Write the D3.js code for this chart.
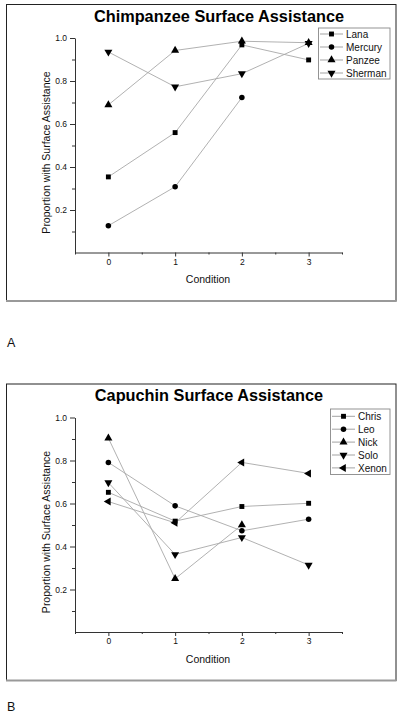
<!DOCTYPE html>
<html><head><meta charset="utf-8">
<script src="https://cdn.jsdelivr.net/npm/d3@7"></script>
<style>body{margin:0;background:#fff}svg{display:block;font-family:"Liberation Sans",Arial,sans-serif}</style>
</head><body>
<svg id="c" width="400" height="716"></svg>
<script>
// ---- data ----
const conditions = [0, 1, 2, 3];
const xTicks = [0, 1, 2, 3];
const yTicks = [0.2, 0.4, 0.6, 0.8, 1.0];
const yMinorTicks = [0.1, 0.3, 0.5, 0.7, 0.9];
const xMinorTicks = [-0.5, 0.5, 1.5, 2.5, 3.5];

const chimpTitle = "Chimpanzee Surface Assistance";
const chimpNames = ["Lana", "Mercury", "Panzee", "Sherman"];
const lana    = [0.354, 0.560, 0.968, 0.898];
const mercury = [0.127, 0.308, 0.723];
const panzee  = [0.689, 0.942, 0.985, 0.978];
const sherman = [0.935, 0.773, 0.834, 0.975];

const capTitle = "Capuchin Surface Assistance";
const capNames = ["Chris", "Leo", "Nick", "Solo", "Xenon"];
const chris = [0.652, 0.518, 0.586, 0.601];
const leo   = [0.791, 0.589, 0.473, 0.527];
const nick  = [0.904, 0.250, 0.500];
const solo  = [0.697, 0.363, 0.442, 0.314];
const xenon = [0.609, 0.510, 0.791, 0.740];

const markerTypes = ["square", "circle", "up", "down", "left"];

const svg = d3.select("#c");

function marker(g, type, x, y) {
  let sym, rot = 0, size = 24;
  if (type === "square") sym = d3.symbolSquare;
  else if (type === "circle") sym = d3.symbolCircle;
  else { sym = d3.symbolTriangle; size = 28; rot = type === "up" ? 0 : type === "down" ? 180 : -90; }
  g.append("path").attr("d", d3.symbol(sym, size)())
    .attr("transform", `translate(${x},${y}) rotate(${rot})`)
    .attr("fill", "#000");
}

function panel(oy, title, titleX, names, series, legend) {
  const g = svg.append("g").attr("transform", `translate(0,${oy})`);
  // frame
  g.append("rect").attr("x", 6.5).attr("y", 4.5).attr("width", 389.5).attr("height", 296.5)
    .attr("fill", "none").attr("stroke", "#222").attr("stroke-width", 1);
  g.append("line").attr("x1", 6).attr("x2", 396.5).attr("y1", 301).attr("y2", 301)
    .attr("stroke", "#999").attr("stroke-width", 2);

  const x = d3.scaleLinear().domain([-0.5, 3.5]).range([75, 342]);
  const y = d3.scaleLinear().domain([0, 1]).range([253, 38]);

  // axes
  g.append("g").attr("transform", "translate(0,252.5)")
    .call(d3.axisBottom(x).tickValues(xTicks).tickFormat(d3.format("d")).tickSize(4).tickSizeOuter(0).tickPadding(2));
  g.append("g").attr("transform", "translate(0,252.5)")
    .call(d3.axisBottom(x).tickValues(xMinorTicks).tickFormat("").tickSize(2).tickSizeOuter(0))
    .select(".domain").remove();
  g.append("g").attr("transform", "translate(75,0)")
    .call(d3.axisLeft(y).tickValues(yTicks).tickFormat(d3.format(".1f")).tickSize(5).tickSizeOuter(0).tickPadding(3));
  g.append("g").attr("transform", "translate(75,0)")
    .call(d3.axisLeft(y).tickValues(yMinorTicks).tickFormat("").tickSize(3).tickSizeOuter(0))
    .select(".domain").remove();
  g.selectAll(".domain, .tick line").attr("stroke", "#333");
  g.selectAll(".tick text").attr("font-size", "8.5px").attr("fill", "#111")
    .attr("font-family", '"Liberation Sans",Arial,sans-serif');

  // titles
  g.append("text").attr("x", titleX).attr("y", 21.5).attr("text-anchor", "middle")
    .attr("font-size", "16.3px").attr("font-weight", "bold").attr("fill", "#000").text(title);
  g.append("text").attr("x", 208).attr("y", 283).attr("text-anchor", "middle")
    .attr("font-size", "10.5px").attr("fill", "#111").text("Condition");
  g.append("text").attr("transform", "translate(50,152.5) rotate(-90)").attr("text-anchor", "middle")
    .attr("font-size", "10.5px").attr("fill", "#111").text("Proportion with Surface Assistance");

  // lines + markers
  const line = d3.line().x((d, i) => x(conditions[i])).y(d => y(d));
  series.forEach((s) => {
    g.append("path").attr("d", line(s)).attr("fill", "none")
      .attr("stroke", "#a8a8a8").attr("stroke-width", 0.9);
  });
  series.forEach((s, k) => {
    s.forEach((v, i) => marker(g, markerTypes[k], x(conditions[i]), y(v)));
  });

  // legend
  const L = legend;
  g.append("rect").attr("x", L.x0 + 0.5).attr("y", L.y0 + 0.5).attr("width", L.x1 - L.x0).attr("height", L.y1 - L.y0)
    .attr("fill", "#fff").attr("stroke", "#888").attr("stroke-width", 0.9);
  names.forEach((n, k) => {
    const yy = L.first + k * L.step;
    g.append("line").attr("x1", L.lx0).attr("x2", L.lx1).attr("y1", yy).attr("y2", yy)
      .attr("stroke", "#999").attr("stroke-width", 0.9);
    marker(g, markerTypes[k], (L.lx0 + L.lx1) / 2, yy);
    g.append("text").attr("x", L.tx).attr("y", yy + 3.6).attr("font-size", "10px")
      .attr("fill", "#111").text(n);
  });
}

panel(0, chimpTitle, 219, chimpNames, [lana, mercury, panzee, sherman],
  {x0: 318, x1: 389.5, y0: 27.5, y1: 78.5, first: 34, step: 13, lx0: 320, lx1: 343, tx: 346});
panel(379.5, capTitle, 209, capNames, [chris, leo, nick, solo, xenon],
  {x0: 330, x1: 389.5, y0: 29, y1: 94.5, first: 36.8, step: 12.9, lx0: 332, lx1: 355, tx: 358});

svg.append("text").attr("x", 7).attr("y", 347).attr("font-size", "12.5px").attr("fill", "#111").text("A");
svg.append("text").attr("x", 7).attr("y", 711).attr("font-size", "12.5px").attr("fill", "#111").text("B");
</script>
</body></html>
